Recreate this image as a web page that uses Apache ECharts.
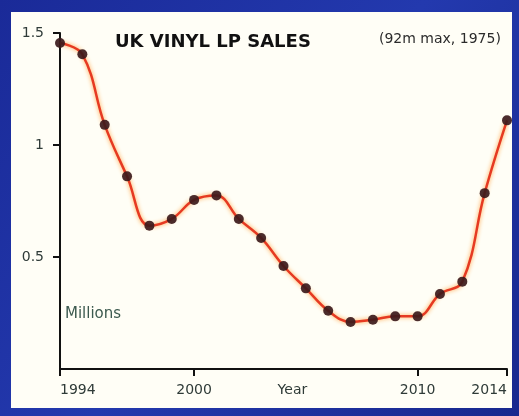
<!DOCTYPE html>
<html>
<head>
<meta charset="utf-8">
<script src="https://cdn.jsdelivr.net/npm/echarts@6/dist/echarts.min.js"></script>
<style>
html, body { margin: 0; padding: 0; background: #1d2fa0; }
#chart { width: 519px; height: 416px; }
</style>
</head>
<body>
<div id="chart"></div>
<script>
// UK vinyl LP sales, millions
var years = [1994, 1995, 1996, 1997, 1998, 1999, 2000, 2001, 2002, 2003, 2004,
             2005, 2006, 2007, 2008, 2009, 2010, 2011, 2012, 2013, 2014];
var sales = [1.455, 1.405, 1.09, 0.86, 0.64, 0.67, 0.755, 0.775, 0.67, 0.585, 0.46,
             0.36, 0.26, 0.21, 0.22, 0.235, 0.235, 0.335, 0.39, 0.785, 1.11];
var xTicks = [1994, 2000, 2010, 2014];
var yTicks = [0.5, 1, 1.5];
var xNamePos = 2004.4;

var myChart = echarts.init(document.getElementById('chart'));
var option = {
    backgroundColor: new echarts.graphic.LinearGradient(0, 0, 1, 1, [
        { offset: 0, color: '#1a2a98' },
        { offset: 0.5, color: '#2339ae' },
        { offset: 1, color: '#18288e' }
    ]),
    animation: false,
    graphic: [
        {
            type: 'rect', left: 11, top: 12, z: -10,
            shape: { width: 501, height: 396 },
            style: { fill: '#fffef6' }
        },
        {
            type: 'text', left: 115, top: 33,
            style: { text: 'UK VINYL LP SALES', font: 'bold 18px "DejaVu Sans"', fill: '#111' }
        },
        {
            type: 'text', left: 379, top: 32,
            style: { text: '(92m max, 1975)', font: '14px "DejaVu Sans"', fill: '#2b2b2b' }
        },
        {
            type: 'text', left: 65, top: 307,
            style: { text: 'Millions', font: '15px "DejaVu Sans"', fill: '#3d5a4f' }
        }
    ],
    grid: { left: 60, right: 12, top: 33, bottom: 47 },
    xAxis: {
        type: 'value',
        min: 1994,
        max: 2014,
        splitLine: { show: false },
        axisLine: { lineStyle: { color: '#111', width: 2 } },
        axisTick: { customValues: xTicks, length: 7, lineStyle: { color: '#111', width: 2 } },
        axisLabel: {
            customValues: [1994, 2000, xNamePos, 2010, 2014],
            alignMinLabel: 'left',
            alignMaxLabel: 'right',
            margin: 14,
            color: '#2f3b38',
            fontFamily: 'DejaVu Sans',
            fontSize: 14,
            formatter: function (v) { return v === xNamePos ? 'Year' : String(v); }
        }
    },
    yAxis: {
        type: 'value',
        min: 0,
        max: 1.5,
        splitLine: { show: false },
        axisLine: { show: true, lineStyle: { color: '#111', width: 2 } },
        axisTick: { show: true, customValues: yTicks, length: 7, lineStyle: { color: '#111', width: 2 } },
        axisLabel: {
            customValues: yTicks,
            margin: 16,
            color: '#2f3b38',
            fontFamily: 'DejaVu Sans',
            fontSize: 14
        }
    },
    series: [{
        type: 'line',
        data: years.map(function (y, i) { return [y, sales[i]]; }),
        smooth: 0.4,
        symbol: 'circle',
        symbolSize: 10,
        lineStyle: {
            color: '#e63a22',
            width: 2.5,
            shadowColor: 'rgba(255, 150, 40, 0.9)',
            shadowBlur: 4
        },
        itemStyle: { color: '#3c1a1c', opacity: 0.92 }
    }]
};
myChart.setOption(option);
window.addEventListener('resize', () => {
    myChart.resize();
});
</script>
</body>
</html>
